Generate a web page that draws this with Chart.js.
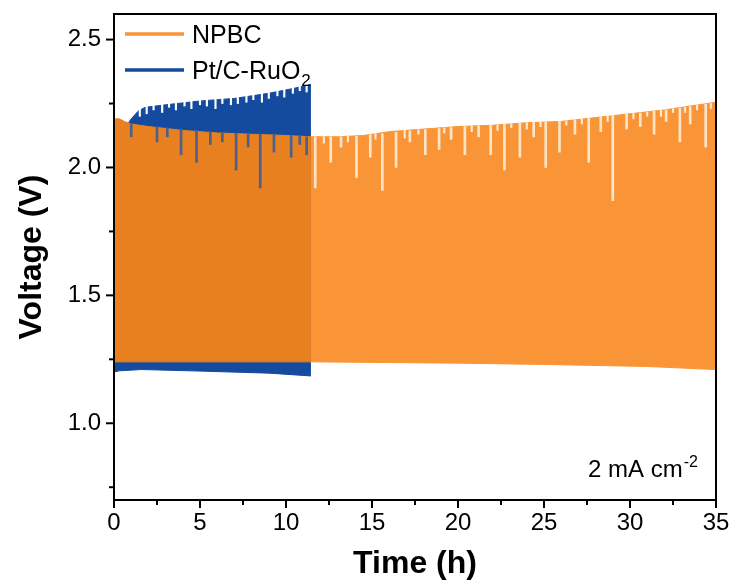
<!DOCTYPE html>
<html>
<head>
<meta charset="utf-8">
<script src="https://cdn.jsdelivr.net/npm/chart.js@4.4.1/dist/chart.umd.min.js"></script>
<style>
    html, body { margin: 0; padding: 0; background: #ffffff; }
    #caixa { width: 736px; height: 586px; }
</style>
</head>
<body>
<div id="caixa"><canvas id="graficoCiclo"></canvas></div>
<script>
// envelopes (tempo em h, tensao em V)
var npbcTempo = [0, 0.3, 0.6, 1, 2, 4, 6, 8, 10, 11.45, 13, 14.5, 16, 18, 20, 22, 24, 26, 28, 30, 32, 34, 35];
var npbcTopo = [2.19, 2.19, 2.18, 2.17, 2.16, 2.145, 2.135, 2.13, 2.125, 2.12, 2.12, 2.125, 2.14, 2.15, 2.16, 2.165, 2.175, 2.18, 2.195, 2.21, 2.225, 2.245, 2.255];
var npbcBaseTempo = [0, 11.45, 20, 25, 31, 35];
var npbcBase = [1.24, 1.24, 1.235, 1.23, 1.222, 1.21];

var ptTempo = [0, 0.7, 1.0, 1.4, 1.8, 3, 5, 7, 9, 10.5, 11.45];
var ptTopo = [2.13, 2.16, 2.19, 2.22, 2.235, 2.245, 2.26, 2.27, 2.29, 2.31, 2.325];
var ptBaseTempo = [0, 0.3, 1.6, 5, 9, 11.45];
var ptBase = [1.2, 1.205, 1.21, 1.204, 1.196, 1.185];

// ciclos com pico mais baixo (riscos verticais compridos)
var npbcQuedaTempo = [1.0, 2.5, 3.1, 3.9, 4.8, 5.6, 6.3, 7.1, 7.8, 8.5, 9.3, 10.3, 10.8, 11.2,
    11.7, 12.6, 13.2, 14.1, 14.9, 15.6, 16.4, 17.2, 18.1, 18.9, 19.6, 20.4, 21.2, 21.9, 22.7,
    23.6, 24.4, 25.1, 25.9, 26.8, 27.6, 28.3, 29.0, 29.8, 30.6, 31.4, 32.1, 32.9, 33.5, 34.4];
var npbcQuedaMin = [2.12, 2.10, 2.12, 2.05, 2.02, 2.09, 2.10, 1.99, 2.08, 1.92, 2.06, 2.04, 2.09, 2.05,
    1.92, 2.02, 2.08, 1.96, 2.04, 1.91, 2.00, 2.10, 2.05, 2.07, 2.11, 2.05, 2.12, 2.05, 1.99,
    2.04, 2.12, 2.00, 2.06, 2.13, 2.02, 2.14, 1.87, 2.15, 2.16, 2.13, 2.18, 2.10, 2.17, 2.08];
var npbcQuedaMax = [2.17, 2.16, 2.155, 2.15, 2.145, 2.14, 2.135, 2.133, 2.13, 2.13, 2.127, 2.125, 2.122, 2.12,
    2.12, 2.12, 2.12, 2.122, 2.128, 2.132, 2.137, 2.143, 2.148, 2.152, 2.156, 2.16, 2.163, 2.165, 2.17,
    2.174, 2.176, 2.178, 2.181, 2.187, 2.193, 2.2, 2.205, 2.209, 2.213, 2.22, 2.225, 2.232, 2.238, 2.248];

// entalhes curtos no topo laranja
var npbcEntalheTempo = [12.2, 13.6, 15.2, 16.9, 17.7, 19.2, 20.8, 22.3, 23.1, 24.0, 24.8,
    26.3, 27.2, 28.7, 30.2, 31.0, 31.8, 32.5, 33.2, 33.9, 34.7];
var npbcEntalheMin = [2.095, 2.10, 2.11, 2.115, 2.13, 2.135, 2.14, 2.145, 2.155, 2.15, 2.16,
    2.165, 2.17, 2.18, 2.19, 2.20, 2.20, 2.215, 2.215, 2.225, 2.23];
var npbcEntalheMax = [2.12, 2.122, 2.133, 2.145, 2.148, 2.155, 2.162, 2.167, 2.171, 2.175, 2.177,
    2.182, 2.19, 2.2, 2.211, 2.217, 2.224, 2.23, 2.236, 2.244, 2.25];

// entalhes brancos no topo azul
var ptQuedaTempo = [1.5, 1.9, 2.3, 2.8, 3.2, 3.6, 4.1, 4.5, 5.0, 5.4, 5.9, 6.3, 6.8, 7.2,
    7.7, 8.1, 8.6, 9.0, 9.5, 9.9, 10.4, 10.8, 11.2];
var ptQuedaMin = [2.20, 2.21, 2.225, 2.215, 2.235, 2.225, 2.24, 2.23, 2.245, 2.24, 2.23, 2.25, 2.245, 2.25,
    2.255, 2.265, 2.255, 2.27, 2.28, 2.275, 2.29, 2.30, 2.295];
var ptQuedaMax = [2.35, 2.35, 2.35, 2.35, 2.35, 2.35, 2.35, 2.35, 2.35, 2.35, 2.35, 2.35, 2.35, 2.35,
    2.35, 2.35, 2.35, 2.35, 2.35, 2.35, 2.35, 2.35, 2.35];

var ticksX = [0, 5, 10, 15, 20, 25, 30, 35];
var ticksY = [1.0, 1.5, 2.0, 2.5];

var laranja = '#f99536';
var laranjaEscuro = '#e8801f';
var azul = '#154b9e';
var fonte = '"Liberation Sans", Arial, sans-serif';

function juntar(tempos, valores) {
    var lista = [];
    for (var cont = 0; cont < tempos.length; cont++) {
        lista.push({ x: tempos[cont], y: valores[cont] });
    }
    return lista;
}

function juntarBarras(tempos, minimos, maximos) {
    var lista = [];
    for (var cont = 0; cont < tempos.length; cont++) {
        lista.push({ x: tempos[cont], y: [minimos[cont], maximos[cont]] });
    }
    return lista;
}

// laranja fica mais escuro onde esta por cima do azul
function corLaranja(ctx) {
    return ctx.p1.parsed.x <= 11.46 ? laranjaEscuro : laranja;
}

// ticks, moldura, legenda e texto da corrente
var desenhoExtra = {
    id: 'desenhoExtra',
    afterDraw: function (chart) {
        var ctx = chart.ctx;
        var area = chart.chartArea;
        var escX = chart.scales.x;
        var escY = chart.scales.y;

        ctx.save();
        ctx.strokeStyle = '#000000';
        ctx.lineWidth = 2;
        ctx.strokeRect(area.left, area.top, area.right - area.left, area.bottom - area.top);

        escX.ticks.forEach(function (t) {
            var px = escX.getPixelForValue(t.value);
            var tam = ticksX.indexOf(t.value) >= 0 ? 8 : 5;
            ctx.beginPath();
            ctx.moveTo(px, area.bottom);
            ctx.lineTo(px, area.bottom + tam);
            ctx.stroke();
        });
        escY.ticks.forEach(function (t) {
            var py = escY.getPixelForValue(t.value);
            var tam = ticksY.indexOf(t.value) >= 0 ? 8 : 5;
            ctx.beginPath();
            ctx.moveTo(area.left, py);
            ctx.lineTo(area.left - tam, py);
            ctx.stroke();
        });

        // legenda
        ctx.lineWidth = 3.5;
        ctx.strokeStyle = laranja;
        ctx.beginPath();
        ctx.moveTo(125, 34);
        ctx.lineTo(184, 34);
        ctx.stroke();
        ctx.strokeStyle = azul;
        ctx.beginPath();
        ctx.moveTo(125, 70);
        ctx.lineTo(184, 70);
        ctx.stroke();

        ctx.fillStyle = '#000000';
        ctx.textBaseline = 'alphabetic';
        ctx.textAlign = 'left';
        ctx.font = '25px ' + fonte;
        ctx.fillText('NPBC', 192, 43);
        ctx.fillText('Pt/C-RuO', 192, 79);
        var larg = ctx.measureText('Pt/C-RuO').width;
        ctx.font = '17px ' + fonte;
        ctx.fillText('2', 192 + larg + 1, 86);

        // densidade de corrente
        ctx.font = '24px ' + fonte;
        ctx.fillText('2 mA cm', 588, 477);
        var larg2 = ctx.measureText('2 mA cm').width;
        ctx.font = '16px ' + fonte;
        ctx.fillText('-2', 588 + larg2 + 1, 467);
        ctx.restore();
    }
};

var ctx = document.getElementById('graficoCiclo');
new Chart(ctx, {
    type: 'line',
    data: {
        datasets: [{
            label: 'Pt/C-RuO2',
            data: juntar(ptTempo, ptTopo),
            borderColor: azul,
            borderWidth: 1,
            backgroundColor: azul,
            pointRadius: 0,
            fill: '+1',
            order: 4
        }, {
            label: 'Pt/C-RuO2 base',
            data: juntar(ptBaseTempo, ptBase),
            borderColor: azul,
            borderWidth: 1,
            pointRadius: 0,
            fill: false,
            order: 4
        }, {
            label: 'NPBC',
            data: juntar(npbcTempo, npbcTopo),
            borderColor: laranja,
            borderWidth: 1,
            backgroundColor: laranja,
            segment: { backgroundColor: corLaranja, borderColor: corLaranja },
            pointRadius: 0,
            fill: '+1',
            order: 3
        }, {
            label: 'NPBC base',
            data: juntar(npbcBaseTempo, npbcBase),
            borderColor: laranja,
            borderWidth: 1,
            segment: { borderColor: corLaranja },
            pointRadius: 0,
            fill: false,
            order: 3
        }, {
            type: 'bar',
            label: 'NPBC quedas',
            data: juntarBarras(npbcQuedaTempo, npbcQuedaMin, npbcQuedaMax),
            backgroundColor: function (c) {
                return c.raw && c.raw.x < 11.45 ? '#4d5f8a' : '#fde4c6';
            },
            borderWidth: 0,
            barThickness: 2,
            grouped: false,
            order: 2
        }, {
            type: 'bar',
            label: 'NPBC entalhes',
            data: juntarBarras(npbcEntalheTempo, npbcEntalheMin, npbcEntalheMax),
            backgroundColor: '#fde9d2',
            borderWidth: 0,
            barThickness: 1.5,
            grouped: false,
            order: 2
        }, {
            type: 'bar',
            label: 'Pt quedas',
            data: juntarBarras(ptQuedaTempo, ptQuedaMin, ptQuedaMax),
            backgroundColor: '#ffffff',
            borderWidth: 0,
            barThickness: 1.5,
            grouped: false,
            order: 2
        }]
    },
    options: {
        responsive: true,
        maintainAspectRatio: false,
        animation: false,
        layout: { padding: { top: 14, right: 20, left: 0, bottom: 0 } },
        plugins: {
            legend: { display: false },
            tooltip: { enabled: false }
        },
        scales: {
            x: {
                type: 'linear',
                min: 0,
                max: 35,
                offset: false,
                grid: { display: false, drawTicks: false },
                border: { display: false },
                ticks: {
                    stepSize: 2.5,
                    includeBounds: false,
                    padding: 9,
                    maxRotation: 0,
                    autoSkip: false,
                    color: '#000000',
                    font: { family: fonte, size: 24 },
                    callback: function (v) {
                        return ticksX.indexOf(v) >= 0 ? String(v) : '';
                    }
                },
                title: {
                    display: true,
                    text: 'Time (h)',
                    color: '#000000',
                    font: { family: fonte, size: 32, weight: 'bold' },
                    padding: { top: 0, bottom: 3 }
                },
                afterFit: function (s) {
                    s.height = 86;
                    s.paddingLeft = 0;
                    s.paddingRight = 0;
                }
            },
            y: {
                min: 0.7,
                max: 2.6,
                grid: { display: false, drawTicks: false },
                border: { display: false },
                ticks: {
                    stepSize: 0.25,
                    includeBounds: false,
                    padding: 13,
                    autoSkip: false,
                    color: '#000000',
                    font: { family: fonte, size: 24 },
                    callback: function (v) {
                        return ticksY.indexOf(v) >= 0 ? v.toFixed(1) : '';
                    }
                },
                title: {
                    display: true,
                    text: 'Voltage (V)',
                    color: '#000000',
                    font: { family: fonte, size: 32, weight: 'bold' },
                    padding: { top: 13, bottom: 0 }
                },
                afterFit: function (s) {
                    s.width = 114;
                    s.paddingTop = 0;
                    s.paddingBottom = 0;
                }
            }
        }
    },
    plugins: [desenhoExtra]
});
</script>
</body>
</html>
